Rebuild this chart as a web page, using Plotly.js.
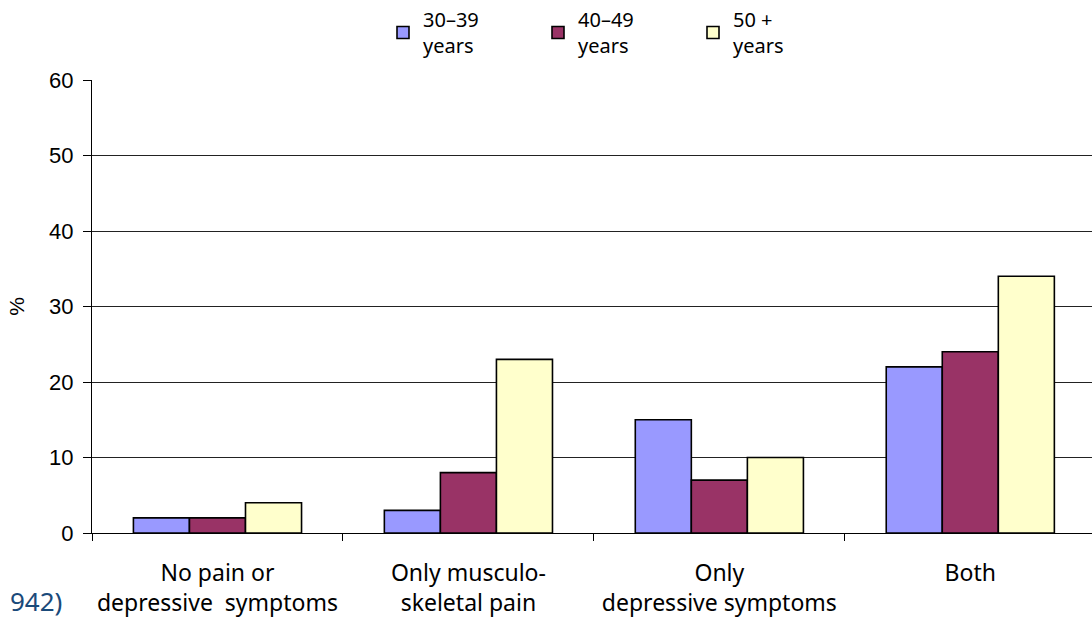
<!DOCTYPE html>
<html>
<head>
<meta charset="utf-8">
<script src="https://cdn.plot.ly/plotly-3.0.1.min.js"></script>
<style>html,body{margin:0;padding:0;background:#fff;}#chart{width:1092px;height:619px;}</style>
</head>
<body>
<div id="chart"></div>
<script>
const categories = ["No pain or<br>depressive  symptoms", "Only musculo-<br>skeletal pain", "Only<br>depressive symptoms", "Both"];
const seriesNames = ["30–39<br>years", "40–49<br>years", "50 +<br>years"];
const values3039 = [2, 3, 15, 22];
const values4049 = [2, 8, 7, 24];
const values50 = [4, 23, 10, 34];
const yTicks = [0, 10, 20, 30, 40, 50, 60];
const colors = ["#9999FF", "#993366", "#FFFFCC"];

const allValues = [values3039, values4049, values50];
const traces = allValues.map((v, i) => ({
  type: "bar",
  name: seriesNames[i],
  x: categories,
  y: v,
  marker: { color: colors[i], line: { color: "#000", width: 1.6 } },
  hoverinfo: "none"
}));

const layout = {
  width: 1092,
  height: 619,
  margin: { l: 92, r: 0, t: 80, b: 86, autoexpand: false },
  paper_bgcolor: "#fff",
  plot_bgcolor: "#fff",
  barmode: "group",
  bargap: 0.33,
  bargroupgap: 0,
  showlegend: true,
  legend: {
    orientation: "h",
    x: 0.291, xanchor: "left",
    yref: "container",
    y: 1.0, yanchor: "top",
    font: { family: "Noto Sans, sans-serif", size: 20, color: "#000" },
    entrywidth: 110,
    entrywidthmode: "pixels",
    itemclick: false,
    tracegroupgap: 0,
    bgcolor: "rgba(0,0,0,0)"
  },
  xaxis: {
    type: "category",
    range: [-0.5, 3.485],
    showline: true,
    linecolor: "#000",
    linewidth: 1,
    ticks: "outside",
    tickson: "boundaries",
    ticklen: 7,
    tickcolor: "#000",
    tickwidth: 1,
    showgrid: false,
    tickangle: 0,
    automargin: false,
    ticklabelstandoff: 19,
    tickfont: { family: "Noto Sans, sans-serif", size: 23, color: "#000" },
    fixedrange: true
  },
  yaxis: {
    range: [0, 60],
    tickvals: yTicks,
    showline: true,
    linecolor: "#000",
    linewidth: 1,
    ticks: "outside",
    ticklen: 8,
    tickcolor: "#000",
    showgrid: true,
    gridcolor: "#222",
    gridwidth: 1,
    zeroline: false,
    automargin: false,
    ticklabelstandoff: 5,
    tickfont: { family: "Liberation Sans, Arial, sans-serif", size: 22, color: "#000" },
    title: { text: "%", font: { family: "Liberation Sans, Arial, sans-serif", size: 21, color: "#000" }, standoff: 18 },
    fixedrange: true
  },
  annotations: [{
    text: "942)",
    xref: "paper", yref: "paper",
    x: -0.084, xanchor: "left",
    y: -0.105, yanchor: "top",
    showarrow: false,
    font: { family: "Noto Sans, sans-serif", size: 26, color: "#1a4a7a" }
  }]
};

Plotly.newPlot("chart", traces, layout, { displayModeBar: false, staticPlot: true });
</script>
</body>
</html>
